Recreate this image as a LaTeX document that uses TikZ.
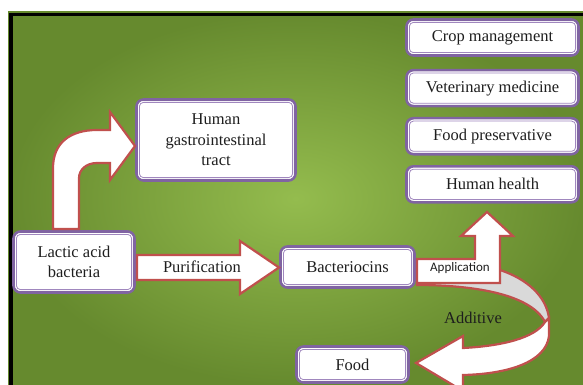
\documentclass[tikz,border=0pt]{standalone}
\usepackage{fontspec}
\setmainfont{Liberation Serif}
\newfontfamily\calibrifont{Carlito}
\usepackage{xcolor}
\definecolor{boxpurple}{RGB}{128,100,162}
\definecolor{boxline}{RGB}{160,135,190}
\definecolor{arrowred}{RGB}{192,80,77}
\definecolor{bglight}{RGB}{148,188,78}
\definecolor{bgdark}{RGB}{102,138,46}
\definecolor{ribbongray}{RGB}{217,217,217}
\definecolor{textdark}{RGB}{30,30,30}
\usepackage{tikz}
\usetikzlibrary{positioning}

\begin{document}
\begin{tikzpicture}[x=1pt, y=-1pt,
    box/.style={rectangle, rounded corners=7pt,
                draw=boxpurple, line width=2.6pt, fill=white,
                align=center, text=textdark, inner sep=2pt,
                font=\fontsize{16.5}{20.5}\selectfont},
    sidebox/.style={box, minimum width=172pt, minimum height=36pt},
    innerline/.style={draw=boxline, line width=0.8pt, rounded corners=4pt},
    barrow/.style={draw=arrowred, line width=2.2pt, fill=white, line join=miter},
    lbl/.style={font=\fontsize{16.5}{20.5}\selectfont, text=textdark, inner sep=0pt},
    applbl/.style={font=\calibrifont\fontsize{13}{15}\selectfont, text=textdark, inner sep=0pt},
  ]
    \useasboundingbox (0,0) rectangle (583,385);
    % background
    \shade[inner color=bglight, outer color=bgdark] (8,12) rectangle (583,385);
    \fill[black] (8,12) rectangle (583,16);
    \fill[black] (8,12) rectangle (13,385);
    \draw[bgdark, line width=0.8pt] (583,12) -- (8,12) -- (8,385);

    % boxes
    \node[sidebox] (crop) at (492.5,37.5) {Crop management};
    \node[sidebox, below=12pt of crop] (vet) {Veterinary medicine};
    \node[sidebox, below=9.5pt of vet]  (pres) {Food preservative};
    \node[sidebox, below=9.5pt of pres] (health) {Human health};
    \node[box, minimum width=159pt, minimum height=81pt] (gut) at (216,140) {Human\\gastrointestinal\\tract};
    \node[box, minimum width=121pt, minimum height=61pt] (lab) at (74,262) {Lactic acid\\bacteria};
    \node[box, minimum width=134pt, minimum height=41pt] (bact) at (347.5,267) {Bacteriocins};
    \node[box, minimum width=112pt, minimum height=36pt] (food) at (352.5,364.5) {Food};

    \foreach \n in {crop,vet,pres,health,gut,lab,bact,food}
      \draw[innerline] ([shift={(4.2pt,-4.2pt)}]\n.north west) rectangle ([shift={(-4.2pt,4.2pt)}]\n.south east);

    % block arrows
    \draw[barrow] (53,229) -- (53,168) .. controls (53,143) and (70,130) .. (97,130)
      -- (110,130) -- (110,112) -- (135,146) -- (110,180) -- (110,163) -- (97,163)
      .. controls (86,163) and (79,170) .. (79,178) -- (79,229) -- cycle;
    \draw[barrow] (137,255) -- (240,255) -- (240,241) -- (279,267.5) -- (240,294)
      -- (240,280) -- (137,280) -- cycle;
    \draw[barrow, fill=ribbongray] (417,285) .. controls (470,285) and (530,293) .. (545,322)
      -- (549,318) .. controls (546,296) and (527,279) .. (500,270) -- (420,268) -- cycle;
    \draw[barrow] (417,259) -- (475,259) -- (475,236) -- (461,236) -- (487,212)
      -- (513,236) -- (500,236) -- (500,283) -- (417,283) -- cycle;
    \draw[barrow] (545,322) -- (549,318) -- (549,336) .. controls (546,362) and (508,374) .. (463,375)
      -- (463,391) -- (416,363) -- (463,336) -- (463,348)
      .. controls (502,346) and (535,338) .. (545,322) -- cycle;

    \node[lbl] (purif) at (202,267) {Purification};
    \node[applbl] (appl) at (460,268) {Application};
    \node[lbl] (addit) at (473,318) {Additive};
  \end{tikzpicture}
\end{document}
